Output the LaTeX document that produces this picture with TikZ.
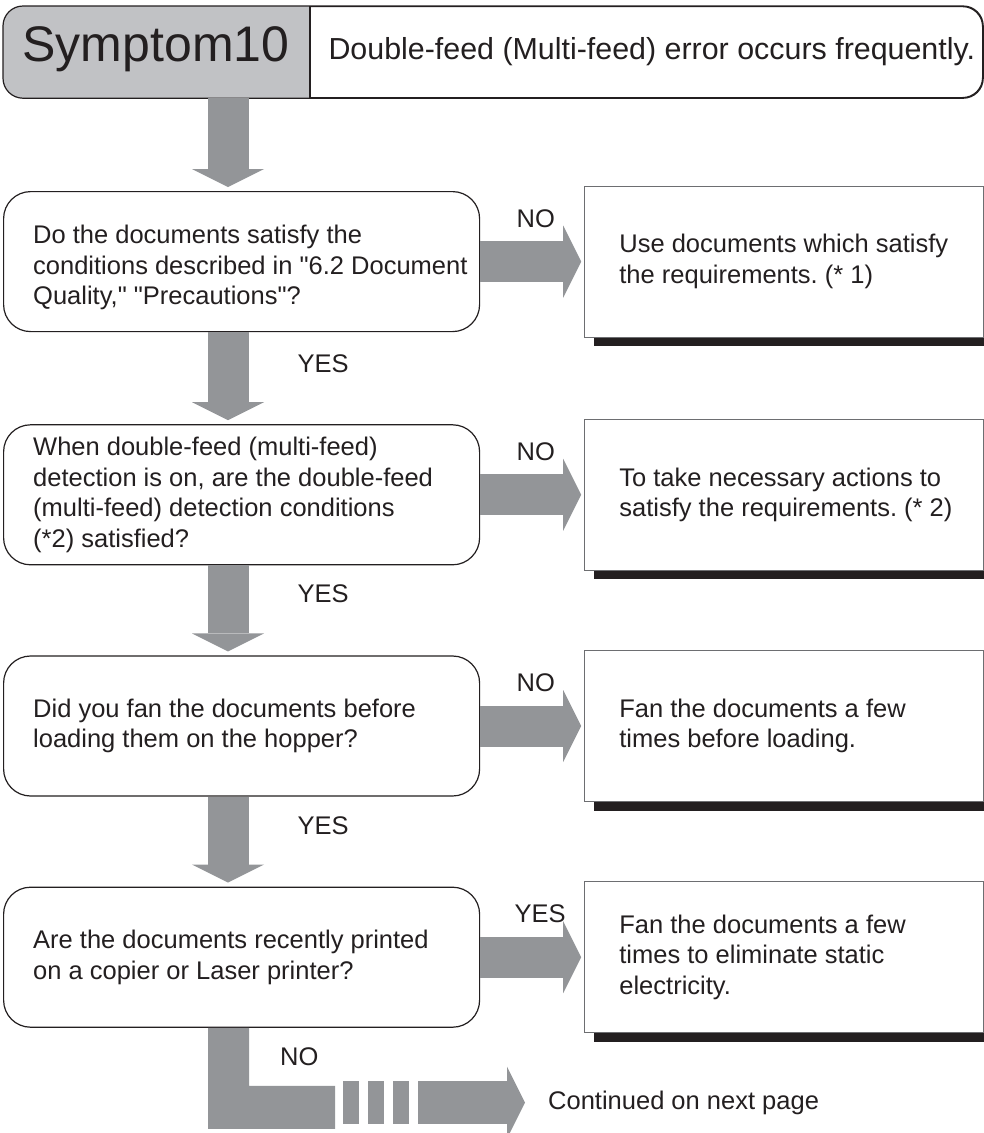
\documentclass[tikz,border=0pt]{standalone}
\usepackage{fontspec}
\setmainfont{Liberation Sans}[Ligatures=TeXOff]
\usepackage{xcolor}
\definecolor{Ink}{HTML}{231F20}
\definecolor{Frame}{HTML}{6D6E71}
\definecolor{ArrowGrey}{HTML}{939598}
\definecolor{HeadGrey}{HTML}{C1C2C5}
\usepackage{tikz}
\usetikzlibrary{arrows.meta,positioning,calc,shadows}
\frenchspacing
\tikzset{
  query/.style={draw=Ink,fill=white,rounded corners=27pt,line width=1.2pt,minimum width=476pt,
    minimum height=140pt,inner sep=0pt},
  action/.style={draw=Frame,fill=white,line width=1.1pt,minimum width=399pt,minimum height=151pt,inner sep=0pt,
    drop shadow={shadow xshift=9pt,shadow yshift=-9pt,fill=Ink,opacity=1}},
  body/.style={align=left,text=Ink,font=\fontsize{25.5}{30.5}\selectfont,inner sep=3pt},
  answer/.style={text=Ink,font=\fontsize{25.5}{30.5}\selectfont,inner sep=0pt},
  flow/.style={draw=ArrowGrey,line width=41pt,-{Triangle[length=18pt,width=72pt,line width=0pt]}}
}
\begin{document}
\begin{tikzpicture}[x=1pt,y=-1pt]
\useasboundingbox (0,0) rectangle (984,1133);
\coordinate (spine) at (228,0);
% header
\node[draw=Ink,fill=white,rounded corners=20pt,line width=1.2pt,minimum width=979pt,minimum height=91pt,
  anchor=north west] (hdr) at (3,6) {};
\begin{scope}
\clip[rounded corners=20pt] (hdr.north west) rectangle (hdr.south east);
\fill[HeadGrey] (hdr.north west) rectangle ([xshift=307pt]hdr.south west);
\end{scope}
\draw[Ink,line width=1.2pt,rounded corners=20pt] (hdr.north west) rectangle (hdr.south east);
\draw[Ink,line width=1.2pt] ([xshift=307pt]hdr.north west) -- ([xshift=307pt]hdr.south west);
\node[text=Ink,font=\fontsize{50}{50}\selectfont] (sym) at ([xshift=153pt,yshift=3pt]hdr.west) {Symptom10};
\node[anchor=west,text=Ink,font=\fontsize{30.4}{30}\selectfont] (title) at ([xshift=322pt]hdr.west)
  {Double-feed (Multi-feed) error occurs frequently.};
% questions
\node[query,anchor=north west] (q1) at (3,191) {};
\node[query,below=92pt of q1] (q2) {};
\node[query,below=90pt of q2] (q3) {};
\node[query,below=90pt of q3] (q4) {};
\node[body,right=27pt of q1.west,yshift=-6pt] (t1) {Do the documents satisfy the\\conditions described in "6.2 Document\\Quality," "Precautions"?};
\node[body,right=27pt of q2.west] (t2) {When double-feed (multi-feed)\\detection is on, are the double-feed\\(multi-feed) detection conditions\\(*2) satisfied?};
\node[body,right=27pt of q3.west] (t3) {Did you fan the documents before\\loading them on the hopper?};
\node[body,right=27pt of q4.west] (t4) {Are the documents recently printed\\on a copier or Laser printer?};
% remedies
\node[action,right=104pt of q1] (a1) {};
\node[action,right=104pt of q2] (a2) {};
\node[action,right=104pt of q3] (a3) {};
\node[action,right=104pt of q4] (a4) {};
\node[body,right=32pt of a1.west] (r1) {Use documents which satisfy\\the requirements. (* 1)};
\node[body,right=32pt of a2.west] (r2) {To take necessary actions to\\satisfy the requirements. (* 2)};
\node[body,right=32pt of a3.west] (r3) {Fan the documents a few\\times before loading.};
\node[body,right=32pt of a4.west] (r4) {Fan the documents a few\\times to eliminate static\\electricity.};
% arrows
\draw[flow,shorten >=4pt] (hdr.south -| spine) -- (q1.north -| spine);
\draw[flow,shorten >=4pt] (q1.south -| spine) -- node[answer,anchor=west,pos=.34,xshift=49pt]{YES} (q2.north -| spine);
\draw[flow,shorten >=4pt] (q2.south -| spine) -- node[answer,anchor=west,pos=.31,xshift=49pt]{YES} (q3.north -| spine);
\draw[flow,shorten >=4pt] (q3.south -| spine) -- node[answer,anchor=west,pos=.32,xshift=49pt]{YES} (q4.north -| spine);
\draw[flow,shorten >=3pt] (q1.east) -- node[answer,anchor=west,pos=0,xshift=16pt,yshift=43pt]{NO} (q1.east -| a1.west);
\draw[flow,shorten >=3pt] (q2.east) -- node[answer,anchor=west,pos=0,xshift=16pt,yshift=43pt]{NO} (q2.east -| a2.west);
\draw[flow,shorten >=3pt] (q3.east) -- node[answer,anchor=west,pos=0,xshift=16pt,yshift=43pt]{NO} (q3.east -| a3.west);
\draw[flow,shorten >=3pt] (q4.east) -- node[answer,anchor=west,pos=0,xshift=14pt,yshift=43pt]{YES} (q4.east -| a4.west);
% continued
\fill[ArrowGrey] ($(q4.south -| spine)+(-20,0)$) -- ++(41,0) -- ++(0,58) -- ++(86,0) -- ++(0,43) -- ++(-127,0) -- cycle;
\foreach \dx in {343,368,393} \fill[ArrowGrey] (\dx,1081) rectangle ++(16,43);
\node[answer,anchor=west] (nolast) at ($(q4.south -| spine)+(52,29)$) {NO};
\node[answer,anchor=west] (cont) at (548,1102.5) {Continued on next page};
\coordinate (restart) at (418,1102.5);
\draw[flow,line width=43pt,shorten >=23pt] (restart) -- (cont.west);
\end{tikzpicture}
\end{document}
